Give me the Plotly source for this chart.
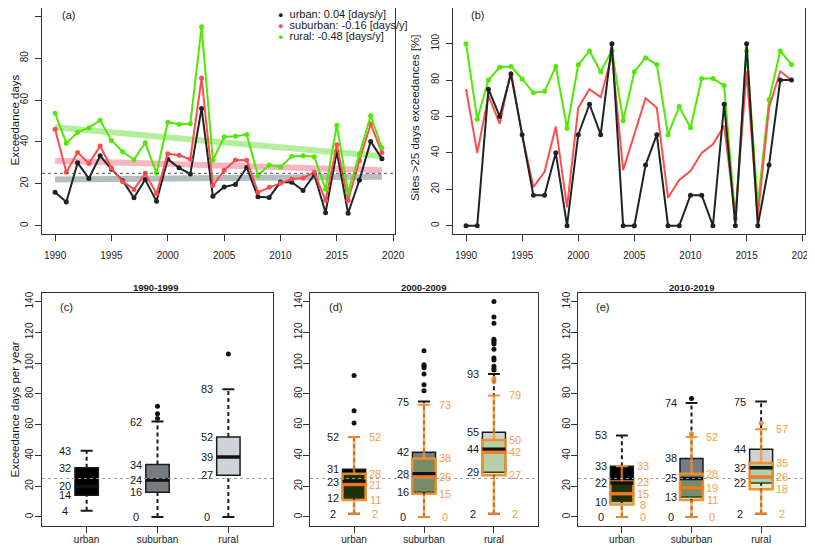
import plotly.graph_objects as go

# ---------------- data ----------------
years = list(range(1990, 2020))
urban_days = [16, 11.3, 30, 22.5, 33.4, 27, 21.5, 13.3, 22, 11.6, 31.7, 27.6, 24.7, 56, 14,
              18.5, 19.7, 27.8, 13.8, 13.5, 20.8, 20.7, 16.8, 24.4, 6.2, 35.4, 5.9, 21.7, 40.2, 32]
suburban_days = [46, 25.5, 35, 29.7, 38, 27.5, 21, 17.3, 25, 15.2, 34.4, 33.6, 31.7, 70.5, 19,
                 26.5, 31.4, 31.3, 16, 18.3, 20.3, 22.3, 22.8, 25.5, 12, 38.6, 12, 31, 48.6, 34.9]
rural_days = [53.7, 39.4, 44.6, 46.8, 50.3, 40.7, 35.3, 31.5, 39.6, 25.1, 49.4, 48.4, 48.7, 95, 31.2,
              42.4, 42.7, 43.5, 24, 29, 28, 33.1, 33.4, 32.9, 17.4, 48, 15.9, 34.2, 52.5, 37.2]

urban_pct = [0, 0, 75, 60, 83.3, 50, 16.7, 16.7, 40, 0, 50, 66.7, 50, 100, 0,
             0, 33.3, 50, 0, 0, 16.7, 16.7, 0, 66.7, 0, 100, 0, 33.3, 80, 80]
suburban_pct = [75, 40, 71.5, 56, 84.8, 50, 21.2, 29.6, 54.5, 10, 64.8, 75, 70.6, 93.7, 30.5,
                50, 70, 64.8, 15.3, 25.1, 30, 40, 44.7, 54.9, 5, 84.8, 5, 65, 84.8, 80]
rural_pct = [100, 58.5, 80, 87, 87.5, 80.6, 73, 73.8, 87.5, 53.5, 88.4, 96, 84.6, 96.3, 57.7,
             84.6, 92.3, 88.5, 50, 65.4, 53.8, 80.8, 80.8, 77, 3.8, 96, 11.5, 69.2, 96, 88.5]

categories = ["urban", "suburban", "rural"]
trend_labels = ["urban: 0.04 [days/y]", "suburban: -0.16 [days/y]", "rural: -0.48 [days/y]"]
trend_start = [22.1, 31.0, 47.0]   # fitted trend value in 1990
trend_end = [23.4, 26.5, 33.1]     # fitted trend value in 2019
threshold = 25

periods = ["1990-1999", "2000-2009", "2010-2019"]
# [lower whisker, Q1, median, Q3, upper whisker] per category (urban, suburban, rural)
stats_all_9099 = [[4, 14, 20, 32, 43], [0, 16, 24, 34, 62], [0, 27, 39, 52, 83]]
stats_all_0009 = [[2, 12, 23, 31, 52], [0, 16, 28, 42, 75], [2, 29, 44, 55, 93]]
stats_all_1019 = [[0, 10, 22, 33, 53], [0, 13, 25, 38, 74], [2, 22, 32, 44, 75]]
stats_sub_0009 = [[2, 11, 21, 28, 52], [0, 15, 26, 38, 73], [2, 27, 42, 50, 79]]
stats_sub_1019 = [[0, 8, 15, 23, 33], [0, 11, 19, 28, 52], [2, 18, 26, 35, 57]]

outliers_all_9099 = [[], [64, 67, 72], [106]]
outliers_all_0009 = [[61, 69, 92], [82, 86, 93, 97, 98, 99, 108],
                     [95.5, 96.5, 98, 102, 103.4, 109, 112.5, 113.6, 114.7, 115.6, 126, 130, 140]]
outliers_all_1019 = [[], [77], []]
outliers_sub_0009 = [[], [], [88, 90]]
outliers_sub_1019 = [[], [54], [61]]

y_ticks_top = [0, 20, 40, 60, 80, 100]
y_ticks_box = [0, 20, 40, 60, 80, 100, 120, 140]
x_ticks_years = [1990, 1995, 2000, 2005, 2010, 2015, 2020]

# ---------------- style ----------------
WIN_W, WIN_H = 815, 546
OFF = 8                      # default page body margin in the browser
W, H = WIN_W - OFF, WIN_H - OFF
FONT = "Liberation Sans, Arial, Helvetica, sans-serif"
line_colors = ["#1c2424", "#ff4d4d", "#4fea00"]
trend_colors = ["rgba(140,155,158,0.65)", "rgba(245,120,140,0.55)", "rgba(130,225,90,0.6)"]
box_fills = ["#000000", "#767c80", "#cdd3d6"]
orange = "rgba(244,140,40,0.95)"
orange_txt = "#f5a04a"
orange_fill = "rgba(120,190,40,0.25)"
black_txt = "#1a1a1a"
BW = 0.33   # box width (axis units)
CW = 0.17   # cap width


def fx(p):
    return (p - OFF) / W


def fy(p):
    return 1 - (p - OFF) / H


def axis(domain, rng, tickvals, ticktext=None, anchor=None, yaxis=False, standoff=0):
    d = dict(domain=domain, range=rng, tickvals=tickvals, showline=True, mirror=True,
             linecolor="#333", linewidth=1, ticks="outside", ticklen=6, tickcolor="#333",
             tickwidth=1, showgrid=False, zeroline=False, automargin=False,
             tickfont=dict(size=10, color="#222", family=FONT), anchor=anchor,
             ticklabelstandoff=standoff)
    if ticktext is not None:
        d["ticktext"] = ticktext
    if yaxis:
        d["tickangle"] = -90
    return d


fig = go.Figure()

# ---------------- panel (a) ----------------
for i in range(3):
    fig.add_trace(go.Scatter(x=[years[0], years[-1]], y=[trend_start[i], trend_end[i]], mode="lines",
                             line=dict(color=trend_colors[i], width=6), xaxis="x", yaxis="y",
                             showlegend=False, hoverinfo="skip"))
for vals, col in zip([urban_days, suburban_days, rural_days], line_colors):
    fig.add_trace(go.Scatter(x=years, y=vals, mode="lines+markers",
                             line=dict(color=col, width=2), marker=dict(color=col, size=5),
                             xaxis="x", yaxis="y", showlegend=False))

# ---------------- panel (b) ----------------
for vals, col, mode in zip([rural_pct, suburban_pct, urban_pct],
                           [line_colors[2], line_colors[1], line_colors[0]],
                           ["lines+markers", "lines", "lines+markers"]):
    fig.add_trace(go.Scatter(x=years, y=vals, mode=mode,
                             line=dict(color=col, width=2), marker=dict(color=col, size=5),
                             xaxis="x2", yaxis="y2", showlegend=False))

# ---------------- box panels ----------------
annotations = []
shapes = []


def add_boxset(stats, outs, xa, ya, fills, edge, edge_w, med_col, med_w, whisk, label_col, label_dx):
    for k, (st, ol) in enumerate(zip(stats, outs)):
        pos = k + 1
        lo, q1, md, q3, hi = st
        fig.add_trace(go.Box(x=[pos], q1=[q1], median=[md], q3=[q3], lowerfence=[q1], upperfence=[q3],
                             width=BW, orientation="v", fillcolor=fills[k],
                             line=dict(color=edge, width=edge_w), whiskerwidth=0, boxpoints=False,
                             xaxis=xa, yaxis=ya, showlegend=False, hoverinfo="skip"))
    for k, (st, ol) in enumerate(zip(stats, outs)):
        pos = k + 1
        lo, q1, md, q3, hi = st
        fig.add_trace(go.Scatter(x=[pos - BW / 2, pos + BW / 2], y=[md, md], mode="lines",
                                 line=dict(color=med_col, width=med_w), xaxis=xa, yaxis=ya,
                                 showlegend=False, hoverinfo="skip"))
        fig.add_trace(go.Scatter(x=[pos, pos, None, pos, pos], y=[lo, q1, None, q3, hi], mode="lines",
                                 line=whisk, xaxis=xa, yaxis=ya, showlegend=False, hoverinfo="skip"))
        fig.add_trace(go.Scatter(x=[pos - CW / 2, pos + CW / 2, None, pos - CW / 2, pos + CW / 2],
                                 y=[lo, lo, None, hi, hi], mode="lines",
                                 line=dict(color=edge, width=2), xaxis=xa, yaxis=ya,
                                 showlegend=False, hoverinfo="skip"))
        if ol:
            fig.add_trace(go.Scatter(x=[pos] * len(ol), y=ol, mode="markers",
                                     marker=dict(color=med_col, size=5), xaxis=xa, yaxis=ya,
                                     showlegend=False, hoverinfo="skip"))
        for v in st:
            annotations.append(dict(x=pos + label_dx, y=v, xref=xa, yref=ya, text=str(v),
                                    xanchor="center", yanchor="middle",
                                    showarrow=False, font=dict(size=11, color=label_col, family=FONT)))


panel_sets = [
    ("x3", "y3", stats_all_9099, outliers_all_9099, None, None),
    ("x4", "y4", stats_all_0009, outliers_all_0009, stats_sub_0009, outliers_sub_0009),
    ("x5", "y5", stats_all_1019, outliers_all_1019, stats_sub_1019, outliers_sub_1019),
]
for xa, ya, st, ol, st2, ol2 in panel_sets:
    add_boxset(st, ol, xa, ya, box_fills, "#1a1a1a", 1.5, "#111", 3.5,
               dict(color="#1a1a1a", width=2, dash="4px,3px"), black_txt, -0.3)
    if st2 is not None:
        add_boxset(st2, ol2, xa, ya, [orange_fill] * 3, orange, 2.5, "rgba(240,120,30,0.85)", 3.5,
                   dict(color="rgba(245,145,50,0.75)", width=2.5), orange_txt, 0.3)
    shapes.append(dict(type="line", xref=xa + " domain", x0=0, x1=1, yref=ya, y0=threshold, y1=threshold,
                       line=dict(color="#9a9a9a", width=1, dash="dot"), layer="above"))

shapes.append(dict(type="line", xref="x domain", x0=0, x1=1, yref="y", y0=threshold, y1=threshold,
                   line=dict(color="#555", width=1, dash="dot"), layer="above"))

# ---------------- text ----------------
for i, lab in enumerate(trend_labels):
    annotations.append(dict(x=fx(276), y=fy(14 + 11 * i), xref="paper", yref="paper",
                            xanchor="left", yanchor="middle", showarrow=False,
                            text='<span style="color:%s;font-size:9px">●</span>  %s' % (line_colors[i], lab),
                            font=dict(size=11, color="#1a1a1a", family=FONT)))
for txt, x, y in [("(a)", 68, 15), ("(b)", 478, 15), ("(c)", 66, 307), ("(d)", 335, 307), ("(e)", 602, 307)]:
    annotations.append(dict(x=fx(x), y=fy(y), xref="paper", yref="paper", showarrow=False, text=txt,
                            xanchor="center", yanchor="middle",
                            font=dict(size=11, color="#1a1a1a", family=FONT)))
for txt, x in zip(periods, [155, 424, 691]):
    annotations.append(dict(x=fx(x), y=fy(287), xref="paper", yref="paper", showarrow=False,
                            xanchor="center", yanchor="middle",
                            text="<b>%s</b>" % txt, font=dict(size=9.5, color="#1a1a1a", family=FONT)))
for txt, x, y in [("Exceedance days", 14.5, 120), ("Sites >25 days exceedances [%]", 415, 118),
                  ("Exceedance days per year", 14.5, 410)]:
    annotations.append(dict(x=fx(x), y=fy(y), xref="paper", yref="paper", showarrow=False, text=txt,
                            xanchor="center", yanchor="middle", borderpad=0,
                            textangle=-90, font=dict(size=11.5, color="#1a1a1a", family=FONT)))

top_dom = [fy(234), min(1.0, fy(3))]
box_dom = [fy(525.5), fy(293)]
yr_rng = [1988.84, 2020.16]
cat_rng = [0.37, 3.63]

fig.update_layout(
    width=W, height=H, margin=dict(l=0, r=0, t=0, b=0, autoexpand=False),
    paper_bgcolor="white", plot_bgcolor="white", boxmode="overlay", showlegend=False,
    font=dict(family=FONT, color="#1a1a1a"),
    xaxis=axis([fx(42), fx(395)], yr_rng, x_ticks_years, anchor="y", standoff=6),
    yaxis=axis(top_dom, [-4, 104], y_ticks_top, anchor="x", yaxis=True, standoff=3),
    xaxis2=axis([fx(453), fx(804.5)], yr_rng, x_ticks_years, anchor="y2", standoff=6),
    yaxis2=axis(top_dom, [-4.6, 119.6], y_ticks_top, anchor="x2", yaxis=True, standoff=3),
    xaxis3=axis([fx(42), fx(273)], cat_rng, [1, 2, 3], categories, anchor="y3", standoff=-2),
    yaxis3=axis(box_dom, [-5.6, 145.6], y_ticks_box, anchor="x3", yaxis=True, standoff=-2),
    xaxis4=axis([fx(310), fx(538)], cat_rng, [1, 2, 3], categories, anchor="y4", standoff=-2),
    yaxis4=axis(box_dom, [-5.6, 145.6], y_ticks_box, anchor="x4", yaxis=True, standoff=-3),
    xaxis5=axis([fx(578), fx(805)], cat_rng, [1, 2, 3], categories, anchor="y5", standoff=-2),
    yaxis5=axis(box_dom, [-5.6, 145.6], y_ticks_box, anchor="x5", yaxis=True, standoff=-3),
    annotations=annotations, shapes=shapes,
)

fig.write_html("out.html")
